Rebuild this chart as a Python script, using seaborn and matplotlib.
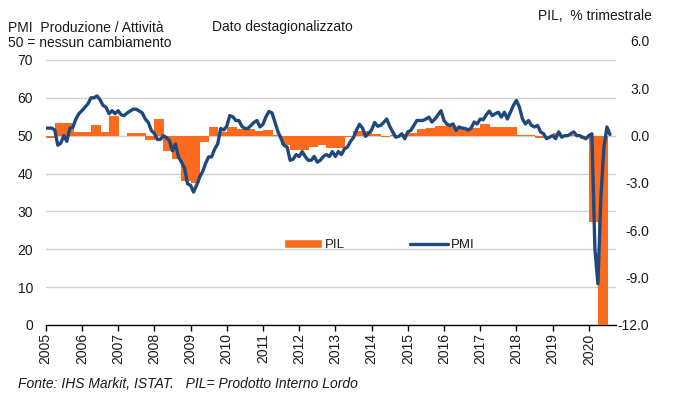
import numpy as np
import matplotlib
matplotlib.use("Agg")
import matplotlib.pyplot as plt
import seaborn as sns
from matplotlib.patches import Patch
from matplotlib.lines import Line2D

# ── data ──────────────────────────────────────────────────────
years = list(range(2005, 2021))

# PMI composito, mensile gen 2005 - ago 2020
pmi = [
    52.0, 52.0, 52.0, 51.5, 47.5, 48.0, 50.0, 48.5, 52.0, 52.2, 54.4, 55.8,   # 2005
    56.6, 57.5, 58.4, 60.0, 60.0, 60.5, 59.5, 58.0, 57.5, 55.8, 56.6, 55.8,   # 2006
    56.6, 55.5, 55.3, 56.0, 56.5, 57.0, 57.0, 56.5, 56.0, 54.4, 53.5, 51.4,   # 2007
    50.6, 49.0, 49.0, 50.0, 49.5, 48.7, 46.0, 47.8, 44.4, 43.0, 41.5, 37.3,   # 2008
    36.9, 35.1, 36.9, 39.0, 40.5, 42.7, 44.4, 44.4, 46.5, 47.8, 51.9, 51.5,   # 2009
    52.5, 55.3, 55.0, 54.0, 54.0, 52.5, 51.9, 51.9, 52.7, 53.5, 54.0, 52.3,   # 2010
    53.0, 55.0, 56.4, 56.0, 53.5, 51.0, 49.2, 47.4, 47.0, 43.5, 43.8, 45.0,   # 2011
    44.5, 45.8, 44.5, 43.5, 43.5, 44.5, 43.0, 43.5, 44.5, 45.0, 44.5, 45.8,   # 2012
    44.5, 45.8, 45.0, 46.5, 47.0, 48.5, 49.5, 51.5, 53.0, 52.0, 49.8, 50.6,   # 2013
    51.5, 53.5, 52.5, 52.7, 53.5, 54.4, 52.5, 51.0, 49.6, 49.8, 50.5, 49.2,   # 2014
    51.0, 51.4, 52.7, 54.0, 54.0, 54.0, 54.4, 54.9, 53.6, 54.4, 55.5, 56.6,   # 2015
    54.0, 53.0, 52.7, 53.1, 51.4, 52.3, 52.0, 51.9, 51.5, 52.0, 53.6, 53.1,   # 2016
    54.4, 54.2, 55.5, 56.5, 55.3, 55.8, 56.2, 54.9, 56.2, 54.4, 56.2, 58.0,   # 2017
    59.3, 57.5, 54.4, 53.1, 54.0, 52.7, 52.3, 52.7, 51.0, 50.5, 49.2, 49.6,   # 2018
    50.0, 49.2, 51.0, 49.6, 50.0, 50.0, 50.5, 51.0, 50.0, 50.0, 49.6, 49.2,   # 2019
    50.0, 50.5, 20.2, 10.9, 33.9, 47.0, 52.3, 50.3,                           # 2020
]

# PIL, variazione % trimestrale, T1 2005 - T2 2020
pil = [
    -0.15, 0.8, 0.8, 0.25,    # 2005
    0.25, 0.7, 0.25, 1.25,    # 2006
    0.0, 0.15, 0.2, -0.3,     # 2007
    1.05, -1.0, -1.5, -2.9,   # 2008
    -3.0, -0.4, 0.55, 0.25,   # 2009
    0.55, 0.4, 0.4, 0.3,      # 2010
    0.35, 0.05, -0.6, -0.9,   # 2011
    -0.9, -0.7, -0.6, -0.8,   # 2012
    -0.8, -0.1, 0.3, 0.3,     # 2013
    0.1, -0.1, 0.05, 0.1,     # 2014
    0.2, 0.4, 0.5, 0.6,       # 2015
    0.6, 0.4, 0.4, 0.5,       # 2016
    0.75, 0.55, 0.55, 0.55,   # 2017
    0.05, 0.05, -0.15, -0.1,  # 2018
    0.2, 0.05, 0.05, -0.2,    # 2019
    -5.5, -12.8,              # 2020
]

pmi_ticks = list(range(0, 71, 10))
pil_ticks = [-12, -9, -6, -3, 0, 3, 6]

ORANGE = "#FA6B1E"
BLUE = "#1F497D"
TXT = "#1a1a1a"

pmi_x = 2005 + np.arange(len(pmi)) / 12
pil_x = 2005 + np.arange(len(pil)) / 4

# ── figure ────────────────────────────────────────────────────
sns.set_style("white")
plt.rcParams['font.family'] = ['Liberation Sans', 'DejaVu Sans']
plt.rcParams['text.color'] = TXT

fig = plt.figure(figsize=(6.8, 4.0), dpi=100)
ax = fig.add_axes([0.0672, 0.1875, 0.8387, 0.71])

# left axis: PMI scale + grid
ax.set_ylim(0, 75)
ax.set_yticks(pmi_ticks)
ax.grid(axis='y', color='#d0d0d0', linewidth=1.0)
ax.set_axisbelow(True)
ax.tick_params(axis='y', left=False, length=0, pad=9, labelsize=10, labelcolor=TXT)
ax.set_xticks(years)
ax.set_xticklabels([str(y) for y in years], rotation=90)
ax.tick_params(axis='x', bottom=True, direction='out', length=4, width=1,
               color='black', pad=2, labelsize=10, labelcolor=TXT)
for s in ['top', 'left', 'right']:
    ax.spines[s].set_visible(False)
ax.spines['bottom'].set_color('black')
ax.spines['bottom'].set_linewidth(1.0)

# right axis: PIL bars, slightly overlapping so quarters join without seams
axb = ax.twinx()
axb.bar(pil_x, pil, width=0.27, align='edge', color=ORANGE, linewidth=0,
        antialiased=False)
axb.set_ylim(-12, 6)
axb.set_yticks(pil_ticks, labels=[f"{t:.1f}" for t in pil_ticks])
axb.tick_params(axis='y', right=True, length=0, pad=24, labelsize=10, labelcolor=TXT)
for lab in axb.get_yticklabels():
    lab.set_horizontalalignment('right')
for s in axb.spines.values():
    s.set_visible(False)
axb.grid(False)

# PMI line on top
axl = ax.twinx()
sns.lineplot(x=pmi_x, y=pmi, ax=axl, color=BLUE, linewidth=2.4, estimator=None)
axl.set_ylim(0, 75)
axl.set_axis_off()

ax.set_xlim(2005, 2020.75)

# legend
handles = [Patch(facecolor=ORANGE, label='PIL'),
           Line2D([], [], color=BLUE, lw=2.4, label='PMI')]
fig.legend(handles=handles, loc='center left', bbox_to_anchor=(284 / 680, 1 - 245 / 400),
           ncol=2, frameon=False, fontsize=9.5, handlelength=2.9, handleheight=0.7,
           handletextpad=0.2, columnspacing=4.9, borderpad=0, borderaxespad=0)

# header / footer texts
fig.text(8 / 680, 1 - 27.5 / 400, "PMI  Produzione / Attività", ha='left', va='center', fontsize=10)
fig.text(212 / 680, 1 - 27.5 / 400, "Dato destagionalizzato", ha='left', va='center', fontsize=10)
fig.text(8 / 680, 1 - 43 / 400, "50 = nessun cambiamento", ha='left', va='center', fontsize=10)
fig.text(652 / 680, 1 - 16 / 400, "PIL,  % trimestrale", ha='right', va='center', fontsize=10)
fig.text(18 / 680, 1 - 384 / 400, "Fonte: IHS Markit, ISTAT.   PIL= Prodotto Interno Lordo",
         ha='left', va='center', fontsize=10, style='italic')

fig.savefig("out.png", dpi=100)
plt.close(fig)
